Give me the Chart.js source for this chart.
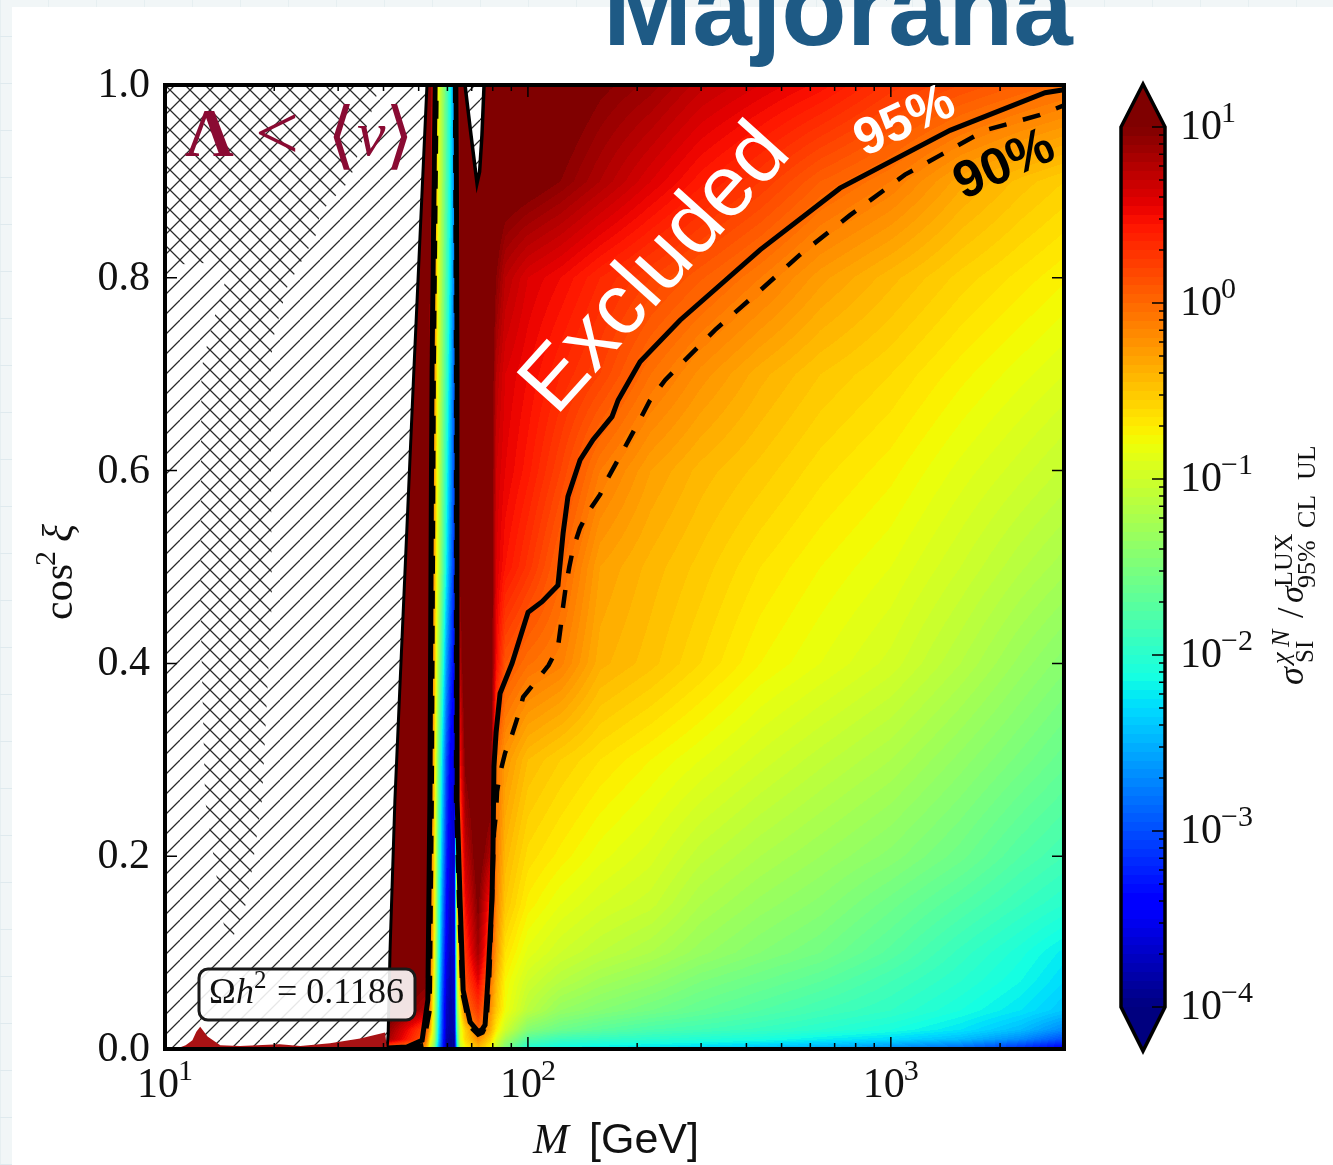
<!DOCTYPE html>
<html><head><meta charset="utf-8">
<style>
html,body{margin:0;padding:0;width:1333px;height:1165px;overflow:hidden;
background-color:#f1f6f7;
background-image:repeating-linear-gradient(0deg,#dfeaee 0 1px,transparent 1px 47px),repeating-linear-gradient(90deg,#e6eff1 0 1px,transparent 1px 48px);}
#panel{position:absolute;left:12px;top:7px;right:0;bottom:0;background:#fff}
canvas{position:absolute;display:block}
</style>
<script src="https://cdn.jsdelivr.net/npm/chart.js@4"></script>
</head><body>
<div id="panel"></div>
<canvas id="main" width="1333" height="1165" style="left:0;top:0"></canvas>
<canvas id="cbar" width="233" height="1040" style="left:1100px;top:60px"></canvas>
<script>
// ---------- data ----------
const massGeV = [39.2,52.1,53.1,53.8,55.2,56.6,58.1,59.6,61.1,62.7,63.8,65.1,67.2,72.9,78.7,81.8,86.6,100,123,158,218,299,437,640,1000,1557,2280,3000];
const cos2xi = [0,0.01,0.02,0.04,0.07,0.1,0.15,0.2,0.3,0.4,0.5,0.6,0.7,0.8,0.9,1];
// log10(sigma / sigma_LUX_95), one line per cos2xi row, one value per massGeV column
const log10Ratio = [
[-0.1,-0.3,-0.6,-1,-1.5,-2.5,-3.2,-3.8,-3.9,-3.9,-2.2,-1.1,-0.8,-0.45,-0.8,-1.1,-1.5,-2.1,-2.2,-2.25,-2.3,-2.35,-2.45,-2.55,-2.7,-2.9,-3.2,-3.5],
[1,0.05,-0.35,-0.7,-1.2,-2.3,-3.1,-3.8,-3.9,-3.9,-1.9,-0.9,-0.6,-0.2,-0.55,-0.9,-1.25,-1.75,-1.9,-1.95,-2,-2.05,-2.1,-2.2,-2.3,-2.45,-2.7,-3],
[1.1,0.15,-0.1,-0.4,-1.1,-2.2,-3.05,-3.75,-3.85,-3.8,-1.7,-0.9,-0.55,0.02,-0.35,-0.7,-1,-1.45,-1.6,-1.7,-1.8,-1.85,-1.92,-2,-2.1,-2.25,-2.45,-2.7],
[1.2,0.8,0.02,-0.2,-1,-2.1,-3,-3.7,-3.85,-3.75,-1.4,-0.7,-0.05,0.25,-0.2,-0.5,-0.8,-1.12,-1.35,-1.45,-1.55,-1.65,-1.75,-1.85,-1.95,-2.1,-2.25,-2.4],
[1.2,1,0.3,-0.1,-0.85,-2,-2.9,-3.6,-3.8,-3.7,-1.1,-0.3,0.15,0.55,-0.05,-0.4,-0.75,-1,-1.15,-1.27,-1.37,-1.5,-1.6,-1.7,-1.85,-2,-2.15,-2.3],
[1.2,1.2,0.7,-0.05,-0.7,-1.9,-2.8,-3.5,-3.75,-3.65,-0.9,-0.15,0.3,0.85,0.15,-0.25,-0.65,-0.87,-1,-1.1,-1.2,-1.33,-1.45,-1.55,-1.72,-1.92,-2.08,-2.22],
[1.2,1.2,1.1,0,-0.65,-1.8,-2.65,-3.35,-3.7,-3.65,-0.5,0,0.5,1,0.4,-0.15,-0.5,-0.72,-0.85,-0.95,-1.03,-1.2,-1.32,-1.42,-1.58,-1.75,-1.9,-2],
[1.2,1.2,1.2,0.05,-0.6,-1.7,-2.5,-3.2,-3.6,-3.7,-0.3,0.1,0.7,1.1,0.8,-0.1,-0.42,-0.62,-0.72,-0.83,-0.93,-1.08,-1.2,-1.3,-1.42,-1.58,-1.75,-1.85],
[1.2,1.2,1.2,0.1,-0.5,-1.5,-2.3,-3,-3.4,-3.6,0,0.5,1,1.2,1.2,-0.05,-0.25,-0.45,-0.55,-0.65,-0.75,-0.85,-0.97,-1.08,-1.2,-1.37,-1.52,-1.63],
[1.2,1.2,1.2,0.2,-0.4,-1.2,-1.9,-2.6,-3.05,-3.4,0,0.8,1.2,1.2,1.2,0.5,0.1,-0.04,-0.13,-0.38,-0.48,-0.6,-0.75,-0.85,-0.97,-1.15,-1.32,-1.43],
[1.2,1.2,1.2,0.3,-0.35,-1,-1.6,-2.2,-2.7,-3.2,0,1,1.2,1.2,1.2,0.6,0.45,0.28,0.02,-0.3,-0.42,-0.52,-0.65,-0.75,-0.85,-1,-1.14,-1.23],
[1.2,1.2,1.2,0.4,-0.3,-0.95,-1.5,-2.05,-2.55,-3.05,0,1.1,1.2,1.2,1.2,0.65,0.55,0.42,0.2,-0.1,-0.3,-0.42,-0.52,-0.63,-0.73,-0.87,-0.98,-1.06],
[1.2,1.2,1.2,0.6,-0.2,-0.9,-1.4,-1.9,-2.4,-2.95,0,1.2,1.2,1.2,1.2,0.75,0.6,0.5,0.35,0.2,-0.05,-0.22,-0.38,-0.5,-0.6,-0.73,-0.83,-0.9],
[1.2,1.2,1.2,0.9,-0.1,-0.85,-1.33,-1.8,-2.27,-2.8,0,1.2,1.2,1.2,1.2,0.95,0.75,0.6,0.5,0.35,0.2,0.06,-0.1,-0.28,-0.43,-0.57,-0.67,-0.74],
[1.2,1.2,1.2,1.1,-0.05,-0.82,-1.28,-1.75,-2.2,-2.72,0,1.2,1.2,1.2,1.2,1.15,1.1,1.05,0.95,0.8,0.6,0.42,0.25,0.05,-0.1,-0.33,-0.47,-0.55],
[1.2,1.2,1.2,1.2,0,-0.8,-1.25,-1.7,-2.15,-2.65,0,1.2,1.2,1.2,1.2,1.2,1.2,1.15,1.1,0.98,0.88,0.72,0.6,0.48,0.28,0.15,0.05,-0.02]
];
const limit95Left = [[40.9,0.001],[46.4,0.002],[51.1,0.009],[53,0.051],[53.7,0.258],[54.4,0.704],[55.5,1]];
const limit95Right = [[63.4,1],[63.8,0.704],[63.8,0.258],[65,0.155],[66.3,0.061],[69.3,0.028],[72.9,0.018],[74.7,0.02],[76.2,0.025],[77.6,0.072],[79.6,0.155],[80.1,0.206],[80.6,0.293],[81.7,0.328],[83.8,0.369],[90.4,0.4],[100.1,0.453],[109.4,0.464],[121,0.481],[125,0.535],[128.9,0.573],[139.2,0.611],[151.2,0.632],[170.5,0.656],[177.2,0.673],[203.7,0.713],[262.5,0.756],[436.2,0.829],[724.4,0.893],[1456,0.953],[2660,0.992],[3000,0.995]];
const limit90Left = [[46,0.001],[51.5,0.004],[53.6,0.04],[54.3,0.258],[55,0.704],[56,1]];
const limit90Right = [[63,1],[63.4,0.704],[63.4,0.258],[64.6,0.155],[66,0.058],[69,0.024],[72.9,0.015],[75,0.017],[76.8,0.025],[78.2,0.072],[79.6,0.155],[80.6,0.224],[81.7,0.245],[82.2,0.267],[83.8,0.286],[86.5,0.307],[90.4,0.326],[94,0.346],[97,0.365],[106,0.383],[114,0.398],[121,0.417],[123,0.437],[125,0.459],[127,0.478],[130,0.5],[133,0.518],[139,0.54],[146,0.556],[158,0.575],[166,0.592],[183,0.621],[201,0.649],[217,0.673],[239,0.694],[280,0.72],[328,0.746],[422,0.782],[562,0.824],[772,0.865],[1094,0.907],[1366,0.927],[1818,0.953],[2578,0.969],[3000,0.979]];
const noRelicRegion = [[10,1],[52.7,1],[48.5,0.704],[43,0.258],[41.7,0.103],[41.2,0.015],[40.9,0],[10,0],[10,1]];
const noRelicWedge = [[67.1,1],[69.7,0.948],[72.4,0.898],[73.6,0.91],[74.7,0.948],[75.7,1]];
const lambdaBelowVev = [[10,1],[39.1,1],[32.3,0.901],[26.7,0.867],[26.2,0.846],[21.7,0.79],[19.8,0.735],[19.5,0.697],[19.7,0.466],[18.5,0.258],[16.9,0.155],[15.3,0.113],[14.6,0.123],[12.9,0.258],[12.5,0.466],[12.6,0.706],[13.3,0.743],[14,0.772],[14.9,0.805],[13.7,0.816],[10,0.813],[10,1]];
const lowMassSliver = [[10.7,0],[11.4,0.004],[11.9,0.009],[12.2,0.018],[12.5,0.023],[13.1,0.013],[14.2,0.004],[16.1,0.003],[20.7,0.005],[23.6,0.003],[28.5,0.006],[34.5,0.011],[40.4,0.017],[40.9,0]];
const xMajorTicks = [10,100,1000];
const xMinorTicks = [20,30,40,50,60,70,80,90,200,300,400,500,600,700,800,900,2000,3000];
const xExponents = ['1','2','3'];
const yTicks = [0,0.2,0.4,0.6,0.8,1];
const yTickLabels = ['0.0','0.2','0.4','0.6','0.8','1.0'];
const cbarMajorTicks = [10,1,0.1,0.01,0.001,0.0001];
const cbarMinorTicks = [9,8,7,6,5,4,3,2];
const cbarExponents = ['1','0','\u22121','\u22122','\u22123','\u22124'];
const levelsPerDecade = 20;
// jet colour map knots
const jetR = [[0,0],[0.35,0],[0.66,1],[0.89,1],[1,0.5]];
const jetG = [[0,0],[0.125,0],[0.375,1],[0.64,1],[0.91,0],[1,0]];
const jetB = [[0,0.5],[0.11,1],[0.34,1],[0.65,0],[1,0]];

// ---------- helpers ----------
const SERIF='"Liberation Serif"', SANS='"Liberation Sans"';
function knot(k,t){for(let i=1;i<k.length;i++){if(t<=k[i][0]){const a=k[i-1],b=k[i];return a[1]+(b[1]-a[1])*(t-a[0])/(b[0]-a[0]);}}return k[k.length-1][1];}
function jet(t){t=Math.max(0,Math.min(1,t));return [knot(jetR,t)*255,knot(jetG,t)*255,knot(jetB,t)*255];}
function levelColor(L){
  const n=5*levelsPerDecade;
  let k=Math.floor((L+4)*levelsPerDecade); k=Math.max(0,Math.min(n-1,k));
  return jet((k+0.5)/n+(k===n-1?0.005:0));
}
function rgb(c){return 'rgb('+c.map(Math.round).join(',')+')';}
function txt(c,s,x,y,font,color,align){c.font=font;c.fillStyle=color||'#111';c.textAlign=align||'left';c.textBaseline='alphabetic';c.fillText(s,x,y);}
function power(c,base,exp,x,y){
  txt(c,base,x,y,'42px '+SERIF);const w=c.measureText(base).width;
  txt(c,exp,x+w-1,y-17,'30px '+SERIF);
}
function pts(a){return a.map(p=>({x:p[0],y:p[1]}));}
function hatch(dir,bg){
  const p=20,t=document.createElement('canvas');t.width=p;t.height=p;const c=t.getContext('2d');
  if(bg){c.fillStyle=bg;c.fillRect(0,0,p,p);}
  c.strokeStyle='#2a2a2a';c.lineWidth=1.25;c.beginPath();
  for(const o of [-p,0,p]){
    if(dir>0){c.moveTo(o,p);c.lineTo(o+p,0);}else{c.moveTo(o,0);c.lineTo(o+p,p);}
  }
  c.stroke();
  return c.createPattern(t,'repeat');
}
function interpAxis(arr,v){ let i=0; while(i<arr.length-2&&v>arr[i+1])i++; const f=(v-arr[i])/(arr[i+1]-arr[i]); return [i,Math.max(0,Math.min(1,f))]; }

// ---------- plugins ----------
const heatPlugin={id:'heat',beforeDatasetsDraw(chart){
  const {ctx,chartArea:a,scales:{x,y}}=chart;
  const w=Math.round(a.right-a.left),h=Math.round(a.bottom-a.top);
  const img=ctx.createImageData(w,h);
  const lg=massGeV.map(Math.log10);
  const cx=[],cy=[];
  for(let i=0;i<w;i++)cx.push(interpAxis(lg,Math.log10(x.getValueForPixel(a.left+i+0.5))));
  for(let j=0;j<h;j++)cy.push(interpAxis(cos2xi,y.getValueForPixel(a.top+j+0.5)));
  let o=0;
  for(let j=0;j<h;j++){const [r,fr]=cy[j];const R0=log10Ratio[r],R1=log10Ratio[r+1];
    for(let i=0;i<w;i++){const [q,fq]=cx[i];
      const v=(R0[q]*(1-fq)+R0[q+1]*fq)*(1-fr)+(R1[q]*(1-fq)+R1[q+1]*fq)*fr;
      const col=levelColor(v);
      img.data[o++]=col[0];img.data[o++]=col[1];img.data[o++]=col[2];img.data[o++]=255;}}
  ctx.putImageData(img,Math.round(a.left),Math.round(a.top));
}};
const dressPlugin={id:'dress',afterDatasetsDraw(chart){
  const {ctx:c,chartArea:a,scales:{x,y}}=chart;
  c.save();
  c.strokeStyle='#000';c.lineWidth=1.5;c.beginPath();
  for(const v of xMajorTicks){const p=x.getPixelForValue(v);c.moveTo(p,a.bottom);c.lineTo(p,a.bottom-12);c.moveTo(p,a.top);c.lineTo(p,a.top+12);}
  for(const v of xMinorTicks){const p=x.getPixelForValue(v);c.moveTo(p,a.bottom);c.lineTo(p,a.bottom-6);c.moveTo(p,a.top);c.lineTo(p,a.top+6);}
  for(const v of yTicks){const p=y.getPixelForValue(v);c.moveTo(a.left,p);c.lineTo(a.left+12,p);c.moveTo(a.right,p);c.lineTo(a.right-12,p);}
  c.stroke();
  c.lineWidth=4;c.strokeRect(a.left,a.top,a.right-a.left,a.bottom-a.top);
  yTicks.forEach((v,i)=>txt(c,yTickLabels[i],150,y.getPixelForValue(v)+12,'42px '+SERIF,'#111','right'));
  xMajorTicks.forEach((v,i)=>power(c,'10',xExponents[i],x.getPixelForValue(v)-28,1097));
  txt(c,'M',533,1153,'italic 43px '+SERIF);
  txt(c,'[GeV]',589,1153,'43px '+SANS);
  c.save();c.translate(72,620);c.rotate(-Math.PI/2);
  txt(c,'cos',0,0,'42px '+SERIF);txt(c,'2',54,-17,'30px '+SERIF);txt(c,'\u03BE',78,0,'italic 42px '+SERIF);
  c.restore();
  const wine='#8a0b33';
  txt(c,'\u039B',185,155,'bold 68px '+SERIF,wine);
  txt(c,'<',255,159,'78px '+SERIF,wine);
  txt(c,'\u27E8',327,160,'74px "DejaVu Sans"',wine);
  txt(c,'v',357,155,'italic 64px '+SERIF,wine);
  txt(c,'\u27E9',385,160,'74px "DejaVu Sans"',wine);
  c.save();c.beginPath();c.rect(a.left,a.top,a.right-a.left,a.bottom-a.top);c.clip();
  c.save();c.translate(556,417);c.rotate(-48*Math.PI/180);txt(c,'Excluded',0,0,'86px '+SANS,'#fff');c.restore();
  c.save();c.translate(864,157);c.rotate(-25*Math.PI/180);txt(c,'95%',0,0,'bold 52px '+SANS,'#fff');c.restore();
  c.save();c.translate(963,200);c.rotate(-24*Math.PI/180);txt(c,'90%',0,0,'bold 52px '+SANS,'#000');c.restore();
  c.restore();
  c.beginPath();c.roundRect(199,969,216,51,9);c.fillStyle='rgba(255,255,255,0.89)';c.fill();c.lineWidth=3;c.strokeStyle='#1a1a1a';c.stroke();
  txt(c,'\u03A9',209,1003,'36px '+SERIF);
  txt(c,'h',236,1003,'italic 36px '+SERIF);
  txt(c,'2',254,988,'25px '+SERIF);
  txt(c,'= 0.1186',277,1003,'36px '+SERIF);
  txt(c,'Majorana',603,45,'bold 107px '+SANS,'#1e5a85');
  c.restore();
}};
const cbarPlugin={id:'cbarDress',afterDatasetsDraw(chart){
  const {ctx:c,chartArea:a,scales:{y}}=chart;
  c.save();
  const mid=(a.left+a.right)/2;
  c.lineJoin='miter';
  c.fillStyle='rgb(127,0,0)';c.beginPath();c.moveTo(a.left,a.top);c.lineTo(mid,a.top-43);c.lineTo(a.right,a.top);c.closePath();c.fill();
  c.fillStyle='rgb(0,0,127)';c.beginPath();c.moveTo(a.left,a.bottom);c.lineTo(mid,a.bottom+44);c.lineTo(a.right,a.bottom);c.closePath();c.fill();
  c.strokeStyle='#000';c.lineWidth=3.5;c.beginPath();
  c.moveTo(a.left,a.top);c.lineTo(mid,a.top-43);c.lineTo(a.right,a.top);c.lineTo(a.right,a.bottom);c.lineTo(mid,a.bottom+44);c.lineTo(a.left,a.bottom);c.closePath();c.stroke();
  c.lineWidth=1.5;c.beginPath();
  cbarMajorTicks.forEach(v=>{const p=y.getPixelForValue(v);c.moveTo(a.right,p);c.lineTo(a.right-13,p);
    if(v<10)cbarMinorTicks.forEach(m=>{const q=y.getPixelForValue(v*m);c.moveTo(a.right,q);c.lineTo(a.right-6,q);});});
  c.stroke();
  cbarMajorTicks.forEach((v,i)=>{power(c,'10',cbarExponents[i],80,y.getPixelForValue(v)+12);});
  c.translate(203,625);c.rotate(-Math.PI/2);
  txt(c,'\u03C3',0,0,'italic 36px '+SERIF);
  txt(c,'\u03C7',21,-14,'italic 26px '+SERIF);txt(c,'N',38,-14,'italic 26px '+SERIF);
  txt(c,'SI',22,10,'25px '+SERIF);
  txt(c,'/',67,0,'38px '+SERIF);
  txt(c,'\u03C3',82,0,'italic 34px '+SERIF);
  txt(c,'LUX',98,-11,'26px '+SERIF);
  txt(c,'95%',97,12,'26px '+SERIF);
  txt(c,'CL',157,12,'26px '+SERIF);
  txt(c,'UL',205,12,'26px '+SERIF);
  c.restore();
}};

// ---------- main chart ----------
const lineBase={showLine:true,pointRadius:0,tension:0,borderColor:'#000',fill:false};
new Chart(document.getElementById('main'),{
  type:'scatter',
  data:{datasets:[
    {...lineBase,label:'95% CL',data:pts(limit95Left),borderWidth:5},
    {...lineBase,label:'95% CL',data:pts(limit95Right),borderWidth:5},
    {...lineBase,label:'90% CL',data:pts(limit90Left),borderWidth:4.5,borderDash:[18,17]},
    {...lineBase,label:'90% CL',data:pts(limit90Right),borderWidth:4.5,borderDash:[18,17]},
    {...lineBase,label:'low mass',data:pts(lowMassSliver),borderWidth:0,fill:'shape',backgroundColor:'#a81214'},
    {...lineBase,label:'Lambda below v',data:pts(lambdaBelowVev),borderWidth:0,fill:'shape',backgroundColor:hatch(-1,null)},
    {...lineBase,label:'no relic wedge',data:pts(noRelicWedge),borderWidth:3.5,fill:'shape',backgroundColor:hatch(1,'#fff')},
    {...lineBase,label:'no relic',data:pts(noRelicRegion),borderWidth:3,fill:'shape',backgroundColor:hatch(1,'#fff')}
  ]},
  options:{responsive:false,animation:false,
    layout:{padding:{left:165,right:269,top:85,bottom:116}},
    plugins:{legend:{display:false},tooltip:{enabled:false}},
    scales:{
      x:{type:'logarithmic',min:10,max:3000,ticks:{display:false},grid:{display:false},border:{display:false},afterFit(s){s.height=0;}},
      y:{type:'linear',min:0,max:1,ticks:{display:false},grid:{display:false},border:{display:false},afterFit(s){s.width=0;}}
    }},
  plugins:[heatPlugin,dressPlugin]
});

// ---------- colour bar ----------
function cbarGradient(ctx){
  const a=ctx.chart.chartArea; if(!a) return '#888';
  const g=ctx.chart.ctx.createLinearGradient(0,a.bottom,0,a.top);
  const n=5*levelsPerDecade;
  for(let k=0;k<n;k++){const col=rgb(jet((k+0.5)/n));g.addColorStop(k/n,col);g.addColorStop((k+1)/n,col);}
  return g;
}
new Chart(document.getElementById('cbar'),{
  type:'bar',
  data:{labels:['ratio'],datasets:[{data:[[0.0001,10]],backgroundColor:cbarGradient,barPercentage:1,categoryPercentage:1,borderWidth:0}]},
  options:{responsive:false,animation:false,
    layout:{padding:{left:21,right:168,top:67,bottom:93}},
    plugins:{legend:{display:false},tooltip:{enabled:false}},
    scales:{
      x:{ticks:{display:false},grid:{display:false},border:{display:false},afterFit(s){s.height=0;}},
      y:{type:'logarithmic',min:0.0001,max:10,ticks:{display:false},grid:{display:false},border:{display:false},afterFit(s){s.width=0;}}
    }},
  plugins:[cbarPlugin]
});
</script>
</body></html>
